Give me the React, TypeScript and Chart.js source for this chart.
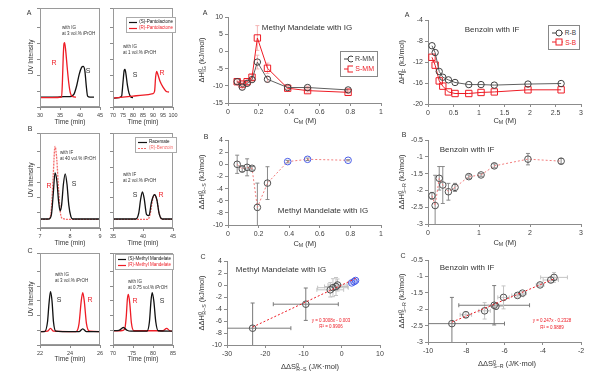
import React, { useEffect, useRef } from "react";
import { Chart, registerables } from "chart.js";

Chart.register(...registerables);

const FONT = "'Liberation Sans', Arial, sans-serif";

// ---------- Chromatograms (arbitrary UV intensity units) ----------
// Row A: pantolactone
const aLeftSTime = [30, 32, 34, 36, 37.5, 38.5, 39.2, 39.8, 40.4, 40.8, 41.2, 41.6, 41.9, 42.5, 43.5];
const aLeftSUV = [1.0, 1.0, 1.0, 1.05, 1.05, 1.3, 2.2, 3.3, 4.0, 4.1, 3.7, 2.0, 1.1, 1.0, 1.0];
const aLeftRTime = [30, 33, 35.4, 35.6, 35.8, 36.0, 36.15, 36.4, 36.8, 37.2, 37.6, 38.2, 39];
const aLeftRUV = [0.95, 0.95, 1.0, 2.5, 5.0, 6.4, 6.5, 5.8, 4.0, 2.4, 1.4, 1.05, 1.0];
const aRightSTime = [70, 73, 74.3, 75, 75.6, 76, 76.5, 77.2, 78, 79, 80];
const aRightSUV = [0.9, 0.95, 1.1, 2.5, 3.7, 3.8, 3.3, 2.2, 1.4, 1.0, 0.95];
const aRightRTime = [70, 75, 80, 85, 90, 90.8, 91.3, 91.8, 92.4, 93.5, 95, 96.5, 98];
const aRightRUV = [0.9, 1.0, 1.1, 1.2, 1.35, 1.6, 3.0, 3.6, 3.3, 2.6, 2.0, 1.6, 1.5];
// Row B: benzoin
const bLeftRacTime = [7.0, 7.3, 7.38, 7.44, 7.5, 7.56, 7.62, 7.67, 7.72, 7.78, 7.84, 7.9, 7.96, 8.03, 8.1, 9.0];
const bLeftRacUV = [0.95, 0.95, 1.4, 3.5, 5.8, 5.0, 2.8, 1.8, 2.4, 4.6, 5.7, 4.6, 2.4, 1.2, 0.95, 0.95];
const bLeftRTime = [7.0, 7.3, 7.38, 7.44, 7.5, 7.56, 7.62, 7.68, 7.75, 8.0, 9.0];
const bLeftRUV = [0.9, 0.95, 2.0, 5.5, 8.6, 7.2, 4.0, 1.6, 1.0, 0.9, 0.9];
const bRightRacTime = [35, 38.8, 39.3, 39.6, 39.9, 40.2, 40.6, 41.0, 41.4, 41.9, 42.3, 42.7, 43.2, 45];
const bRightRacUV = [0.95, 0.95, 1.6, 3.0, 3.8, 3.1, 1.4, 1.3, 2.7, 3.5, 3.0, 1.5, 0.95, 0.95];
const bRightRTime = [35, 40.8, 41.2, 41.6, 41.9, 42.3, 42.7, 43.2, 45];
const bRightRUV = [0.9, 0.9, 1.5, 3.0, 3.5, 3.0, 1.5, 0.9, 0.9];
// Row C: methyl mandelate
const cLeftSTime = [22, 22.3, 22.5, 22.6, 22.7, 22.8, 22.9, 23.05, 23.5, 24.6, 24.85, 25.1, 26];
const cLeftSUV = [1.45, 1.45, 2.5, 4.5, 5.8, 4.8, 2.5, 1.5, 1.45, 1.45, 1.75, 1.45, 1.45];
const cLeftRTime = [22, 22.5, 22.7, 22.9, 24.4, 24.6, 24.75, 24.85, 24.95, 25.1, 25.3, 26];
const cLeftRUV = [1.45, 1.5, 1.8, 1.5, 1.45, 2.3, 4.8, 5.7, 4.8, 2.3, 1.5, 1.45];
const cRightSTime = [70, 71.5, 72.6, 73.5, 74.5, 78.5, 79.1, 79.5, 79.8, 80.2, 80.7, 81.3, 85];
const cRightSUV = [1.55, 1.6, 1.9, 1.6, 1.5, 1.5, 2.5, 4.8, 5.7, 4.8, 2.5, 1.55, 1.5];
const cRightRTime = [70, 72, 72.9, 73.3, 73.6, 73.85, 74.2, 74.6, 75.2, 82.5, 83.4, 84.2, 85];
const cRightRUV = [1.55, 1.55, 1.7, 3.0, 5.0, 5.5, 4.5, 2.4, 1.55, 1.55, 1.8, 1.55, 1.5];

// ---------- Methyl mandelate with IG ----------
const mmConc = [0.06, 0.093, 0.125, 0.157, 0.192, 0.258, 0.39, 0.52, 0.785];
const rmmH = [-8.8, -10.4, -9.3, -8.2, -3.1, -8.1, -10.5, -10.5, -11.2];
const rmmErr = [0.6, 0.6, 0.6, 0.6, 2.0, 0.8, 0.4, 0.4, 0.4];
const smmH = [-8.8, -9.5, -8.8, -7.5, 3.9, -4.9, -10.7, -11.4, -11.9];
const smmErr = [0.6, 0.6, 0.8, 0.8, 3.6, 1.5, 0.4, 0.4, 0.4];
const mmDDH = [0.0, -0.77, -0.5, -0.66, -7.1, -3.1, 0.44, 0.82, 0.66];
const mmDDHErr = [1.5, 0.5, 1.4, 0.3, 4.0, 2.7, 0.2, 0.2, 0.1];
const mmDDS = [-23.3, -9.4, -3.0, -2.3, -1.5, -1.1];
const mmDDHc = [-7.2, -3.2, -0.8, -0.45, -0.25, 0.0];
const mmDDSErr = [10, 8.5, 3.5, 4, 3, 2.5];
const mmDDHcErr = [4.2, 2.7, 1.2, 1.5, 1.5, 1.0];
const mmDDSBlue = [2.6, 3.2, 3.6];
const mmDDHBlue = [0.35, 0.55, 0.75];
const mmFitX = [-23.3, 3.8];
const mmFitY = [-7.01, 1.14];

// ---------- Benzoin with IF ----------
const bzConc = [0.078, 0.14, 0.22, 0.29, 0.4, 0.53, 0.8, 1.04, 1.3, 1.96, 2.61];
const rbH = [-8.9, -10.2, -13.8, -14.9, -15.4, -15.9, -16.3, -16.3, -16.4, -16.2, -16.1];
const sbH = [-11.1, -12.6, -15.6, -16.6, -17.7, -18.0, -18.0, -17.8, -17.7, -17.3, -17.3];
const bzDDH = [-2.16, -2.45, -1.64, -1.84, -2.04, -1.91, -1.59, -1.54, -1.27, -1.07, -1.13];
const bzDDHErr = [0.1, 0.9, 0.35, 0.55, 0.25, 0.12, 0.05, 0.04, 0.06, 0.17, 0.08];
const bzDDS = [-8.75, -8.02, -7.04, -6.54, -6.45, -6.05, -5.32, -5.06, -4.14, -3.58, -3.41];
const bzDDHc = [-2.44, -2.17, -2.05, -1.88, -1.91, -1.64, -1.58, -1.51, -1.26, -1.11, -1.03];
const bzDDSErr = [2.75, 0.3, 0.3, 1.85, 0.4, 0.3, 0.3, 0.2, 0.2, 0.4, 0.7];
const bzDDHcErr = [0.8, 0.1, 0.25, 0.6, 0.1, 0.35, 0.05, 0.05, 0.05, 0.08, 0.15];
const bzFitX = [-8.75, -3.35];
const bzFitY = [-2.394, -1.06];

// ---------- plugins ----------
const framePlugin = {
  id: "frame",
  afterDraw(chart: any, _a: any, opts: any) {
    if (!opts || !opts.color) return;
    const { left, top, right, bottom } = chart.chartArea;
    const ctx = chart.ctx;
    ctx.save();
    ctx.strokeStyle = opts.color;
    ctx.lineWidth = 1;
    ctx.strokeRect(Math.round(left) + 0.5, Math.round(top) + 0.5, Math.round(right - left) - 1, Math.round(bottom - top) - 1);
    ctx.restore();
  },
};

const errPlugin = {
  id: "errbars",
  beforeDatasetsDraw(chart: any) {
    const ctx = chart.ctx;
    const { left, top, right, bottom } = chart.chartArea;
    const xs = chart.scales.x;
    const ys = chart.scales.y;
    ctx.save();
    ctx.beginPath();
    ctx.rect(left, top, right - left, bottom - top);
    ctx.clip();
    ctx.lineWidth = 1;
    chart.data.datasets.forEach((ds: any) => {
      if (!ds.errY && !ds.errX) return;
      ds.data.forEach((p: any, i: number) => {
        const col = Array.isArray(ds.errColor) ? ds.errColor[i] : ds.errColor || "#888";
        ctx.strokeStyle = col;
        const px = xs.getPixelForValue(p.x);
        const py = ys.getPixelForValue(p.y);
        const cap = 2;
        if (ds.errY) {
          const e = ds.errY[i];
          const y1 = ys.getPixelForValue(p.y + e);
          const y2 = ys.getPixelForValue(p.y - e);
          ctx.beginPath();
          ctx.moveTo(px, y1); ctx.lineTo(px, y2);
          ctx.moveTo(px - cap, y1); ctx.lineTo(px + cap, y1);
          ctx.moveTo(px - cap, y2); ctx.lineTo(px + cap, y2);
          ctx.stroke();
        }
        if (ds.errX) {
          const e = ds.errX[i];
          const x1 = xs.getPixelForValue(p.x - e);
          const x2 = xs.getPixelForValue(p.x + e);
          ctx.beginPath();
          ctx.moveTo(x1, py); ctx.lineTo(x2, py);
          ctx.moveTo(x1, py - cap); ctx.lineTo(x1, py + cap);
          ctx.moveTo(x2, py - cap); ctx.lineTo(x2, py + cap);
          ctx.stroke();
        }
      });
    });
    ctx.restore();
  },
};

Chart.register(framePlugin as any, errPlugin as any);

const PL = 28, PR = 10, PT = 8, PB = 18;

type Box = { l: number; t: number; w: number; h: number };

const pts = (xs: number[], ys: number[]) => xs.map((x, i) => ({ x, y: ys[i] }));

const fmt = (v: any) => String(Math.round(Number(v) * 100) / 100);

function axis(min: number, max: number, step: number, labels = true, size = 7) {
  return {
    type: "linear",
    min,
    max,
    ticks: {
      stepSize: step,
      display: labels,
      font: { size, family: FONT },
      color: "#404040",
      padding: 2,
      autoSkip: false,
      maxRotation: 0,
      callback: fmt,
    },
    grid: { drawOnChartArea: false, drawTicks: true, tickLength: 3, color: "#8c8c8c" },
    border: { display: true, color: "#8c8c8c", width: 1 },
  };
}

function options(x: any, y: any, frame?: string) {
  return {
    responsive: false,
    animation: false,
    devicePixelRatio: 1,
    events: [],
    layout: { padding: { top: PT, right: PR, left: 0, bottom: 0 } },
    plugins: {
      legend: { display: false },
      tooltip: { enabled: false },
      frame: { color: frame },
    },
    scales: {
      x: { ...x, afterFit: (s: any) => { s.height = PB; } },
      y: { ...y, afterFit: (s: any) => { s.width = PL; } },
    },
  };
}

function Panel({ box, make }: { box: Box; make: () => any }) {
  const ref = useRef<HTMLCanvasElement>(null);
  useEffect(() => {
    const chart = new Chart(ref.current as HTMLCanvasElement, make());
    return () => chart.destroy();
  }, []);
  const w = box.w + PL + PR;
  const h = box.h + PT + PB;
  return (
    <canvas
      ref={ref}
      width={w}
      height={h}
      style={{ position: "absolute", left: box.l - PL, top: box.t - PT, width: w, height: h }}
    />
  );
}

const RED = "#ee1c25";
const PINK = "#f27d7d";

function chrom(series: { x: number[]; y: number[]; color: string; dash?: number[] }[], xmin: number, xmax: number, xstep: number) {
  return () => ({
    type: "line",
    data: {
      datasets: series.map((s) => ({
        data: pts(s.x, s.y),
        borderColor: s.color,
        borderWidth: 1.3,
        borderDash: s.dash || [],
        pointRadius: 0,
        cubicInterpolationMode: "monotone",
        fill: false,
      })),
    },
    options: options(axis(xmin, xmax, xstep, true, 5.5), axis(0, 10, 1.6, false), "#9a9a9a"),
  });
}

function markerDs(xs: number[], ys: number[], color: string, style: string, radius: number, extra: any = {}) {
  return {
    data: pts(xs, ys),
    borderColor: color,
    borderWidth: 1,
    pointStyle: style,
    pointRadius: radius,
    pointBorderColor: color,
    pointBackgroundColor: "rgba(255,255,255,0)",
    pointBorderWidth: 1,
    fill: false,
    ...extra,
  };
}

const T = ({ x, y, children, color = "#333", size = 7, align = "center" }: any) => (
  <div
    style={{
      position: "absolute",
      left: x,
      top: y,
      transform: align === "center" ? "translate(-50%,-50%)" : "translate(0,-50%)",
      whiteSpace: "nowrap",
      fontSize: size,
      lineHeight: 1,
      color,
      fontFamily: FONT,
    }}
  >
    {children}
  </div>
);

const V = ({ x, y, children, size = 7.5 }: any) => (
  <div
    style={{
      position: "absolute",
      left: x,
      top: y,
      transform: "translate(-50%,-50%) rotate(-90deg)",
      whiteSpace: "nowrap",
      fontSize: size,
      lineHeight: 1,
      color: "#333",
      fontFamily: FONT,
    }}
  >
    {children}
  </div>
);

const sub = (s: string) => <sub style={{ fontSize: "0.7em", verticalAlign: "-0.25em" }}>{s}</sub>;
const HS = (s: string) => (
  <span style={{ position: "relative", display: "inline-block" }}>
    <span style={{ fontSize: "0.7em", position: "relative", top: "-0.45em" }}>0</span>
    <span style={{ fontSize: "0.7em", marginLeft: "-0.5em", position: "relative", top: "0.3em" }}>{s}</span>
  </span>
);

function ChromLegend({ x, y, w, items }: any) {
  return (
    <div
      style={{
        position: "absolute",
        left: x,
        top: y,
        width: w,
        border: "1px solid #aaa",
        background: "#fff",
        padding: "1px 2px",
        fontFamily: FONT,
        fontSize: 4.5,
        lineHeight: "6px",
      }}
    >
      {items.map((it: any, i: number) => (
        <div key={i} style={{ display: "flex", alignItems: "center", whiteSpace: "nowrap", color: it.color }}>
          <svg width={9} height={5} style={{ marginRight: 2 }}>
            <line x1={0} y1={2.5} x2={9} y2={2.5} stroke={it.color} strokeWidth={1.2} strokeDasharray={it.dash ? "2,1" : undefined} />
          </svg>
          {it.label}
        </div>
      ))}
    </div>
  );
}

function SeriesLegend({ x, y, w, items, size = 8 }: any) {
  return (
    <div
      style={{
        position: "absolute",
        left: x,
        top: y,
        width: w,
        border: "1px solid #888",
        background: "#fff",
        padding: "2px 3px",
        fontFamily: FONT,
        fontSize: size,
        lineHeight: `${size + 3}px`,
      }}
    >
      {items.map((it: any, i: number) => (
        <div key={i} style={{ display: "flex", alignItems: "center", whiteSpace: "nowrap", color: it.color }}>
          <svg width={14} height={8} style={{ marginRight: 2 }}>
            <line x1={0} y1={4} x2={14} y2={4} stroke={it.color} strokeWidth={1} />
            {it.square ? (
              <rect x={4} y={1} width={6} height={6} fill="#fff" stroke={it.color} strokeWidth={1} />
            ) : (
              <circle cx={7} cy={4} r={3} fill="#fff" stroke={it.color} strokeWidth={1} />
            )}
          </svg>
          {it.label}
        </div>
      ))}
    </div>
  );
}

// plot boxes
const boxAL: Box = { l: 40, t: 8, w: 60, h: 99 };
const boxAR: Box = { l: 113, t: 8, w: 60, h: 99 };
const boxBL: Box = { l: 40, t: 133, w: 60, h: 95 };
const boxBR: Box = { l: 113, t: 133, w: 60, h: 95 };
const boxCL: Box = { l: 40, t: 253, w: 60, h: 92 };
const boxCR: Box = { l: 113, t: 253, w: 60, h: 92 };
const boxMA: Box = { l: 228, t: 17, w: 153, h: 86 };
const boxMB: Box = { l: 228, t: 140, w: 153, h: 85 };
const boxMC: Box = { l: 227, t: 261, w: 153, h: 84 };
const boxRA: Box = { l: 428, t: 20, w: 153, h: 84 };
const boxRB: Box = { l: 428, t: 140, w: 153, h: 84 };
const boxRC: Box = { l: 428, t: 260, w: 153, h: 82 };

const makeMA = () => ({
  type: "line",
  data: {
    datasets: [
      markerDs(mmConc, rmmH, "#404040", "circle", 3.2, { borderColor: "#606060", errY: rmmErr, errColor: "#f5b5b5" }),
      markerDs(mmConc, smmH, RED, "rect", 4.5, { errY: smmErr, errColor: "#f5b5b5" }),
    ],
  },
  options: options(axis(0, 1, 0.2), axis(-15, 10, 5)),
});

const makeMB = () => ({
  type: "line",
  data: {
    datasets: [
      markerDs(mmConc, mmDDH, PINK, "circle", 3.3, {
        borderDash: [2, 2],
        pointBorderColor: mmConc.map((_, i) => (i < 6 ? "#505050" : "#4a5ee8")),
        errY: mmDDHErr,
        errColor: "#8a8a8a",
      }),
    ],
  },
  options: options(axis(0, 1, 0.2), axis(-10, 4, 2)),
});

const makeMC = () => ({
  type: "line",
  data: {
    datasets: [
      { data: pts(mmFitX, mmFitY), borderColor: RED, borderWidth: 1, borderDash: [2, 2], pointRadius: 0 },
      markerDs(mmDDS, mmDDHc, "#505050", "circle", 3.3, {
        showLine: false,
        errX: mmDDSErr,
        errY: mmDDHcErr,
        errColor: mmDDS.map((_, i) => (i < 2 ? "#7a7a7a" : "#c4c4c4")),
      }),
      markerDs(mmDDSBlue, mmDDHBlue, "#4a5ee8", "circle", 3.3, {
        showLine: false,
        errX: mmDDSBlue.map(() => 0.6),
        errY: mmDDSBlue.map(() => 0.2),
        errColor: "#b8c2f5",
      }),
    ],
  },
  options: options(axis(-30, 10, 10), axis(-10, 4, 2)),
});

const makeRA = () => ({
  type: "line",
  data: {
    datasets: [
      markerDs(bzConc, rbH, "#404040", "circle", 3.2, { borderColor: "#606060" }),
      markerDs(bzConc, sbH, RED, "rect", 4.5),
    ],
  },
  options: options(axis(0, 3, 0.5), axis(-20, -4, 4)),
});

const makeRB = () => ({
  type: "line",
  data: {
    datasets: [
      markerDs(bzConc, bzDDH, PINK, "circle", 3.3, {
        borderDash: [2, 2],
        pointBorderColor: "#505050",
        errY: bzDDHErr,
        errColor: "#8a8a8a",
      }),
    ],
  },
  options: options(axis(0, 3, 1), axis(-3, -0.5, 0.5)),
});

const makeRC = () => ({
  type: "line",
  data: {
    datasets: [
      { data: pts(bzFitX, bzFitY), borderColor: RED, borderWidth: 1, borderDash: [2, 2], pointRadius: 0 },
      markerDs(bzDDS, bzDDHc, "#505050", "circle", 3.3, {
        showLine: false,
        errX: bzDDSErr,
        errY: bzDDHcErr,
        errColor: bzDDS.map((_, i) => (i === 0 || i === 3 ? "#7a7a7a" : "#c4c4c4")),
      }),
    ],
  },
  options: options(axis(-10, -2, 2), axis(-3, -0.5, 0.5)),
});

export default function App() {
  const ddH = (s: string) => (
    <span>
      ΔΔH{HS(s)} (kJ/mol)
    </span>
  );
  return (
    <div
      style={{
        position: "absolute",
        left: 0,
        top: 0,
        width: 599,
        height: 377,
        background: "#fff",
        overflow: "hidden",
        fontFamily: FONT,
      }}
    >
      {/* chromatograms */}
      <Panel box={boxAL} make={chrom([{ x: aLeftRTime, y: aLeftRUV, color: RED }, { x: aLeftSTime, y: aLeftSUV, color: "#111" }], 30, 45, 5)} />
      <Panel box={boxAR} make={chrom([{ x: aRightRTime, y: aRightRUV, color: RED }, { x: aRightSTime, y: aRightSUV, color: "#111" }], 70, 100, 5)} />
      <Panel box={boxBL} make={chrom([{ x: bLeftRacTime, y: bLeftRacUV, color: "#111" }, { x: bLeftRTime, y: bLeftRUV, color: "#f46a6a", dash: [2, 1] }], 7, 9, 1)} />
      <Panel box={boxBR} make={chrom([{ x: bRightRacTime, y: bRightRacUV, color: "#111" }, { x: bRightRTime, y: bRightRUV, color: "#f46a6a", dash: [2, 1] }], 35, 45, 5)} />
      <Panel box={boxCL} make={chrom([{ x: cLeftSTime, y: cLeftSUV, color: "#111" }, { x: cLeftRTime, y: cLeftRUV, color: RED }], 22, 26, 2)} />
      <Panel box={boxCR} make={chrom([{ x: cRightSTime, y: cRightSUV, color: "#111" }, { x: cRightRTime, y: cRightRUV, color: RED }], 70, 85, 5)} />

      <Panel box={boxMA} make={makeMA} />
      <Panel box={boxMB} make={makeMB} />
      <Panel box={boxMC} make={makeMC} />
      <Panel box={boxRA} make={makeRA} />
      <Panel box={boxRB} make={makeRB} />
      <Panel box={boxRC} make={makeRC} />

      {/* chromatogram texts */}
      <T x={29} y={12} size={7}>A</T>
      <T x={30} y={128} size={7}>B</T>
      <T x={30} y={250} size={7}>C</T>
      <V x={31} y={57} size={6.5}>UV Intensity</V>
      <V x={31} y={180} size={6.5}>UV Intensity</V>
      <V x={31} y={299} size={6.5}>UV Intensity</V>
      <T x={70} y={122} size={6.5}>Time (min)</T>
      <T x={143} y={122} size={6.5}>Time (min)</T>
      <T x={70} y={243} size={6.5}>Time (min)</T>
      <T x={143} y={243} size={6.5}>Time (min)</T>
      <T x={70} y={359} size={6.5}>Time (min)</T>
      <T x={143} y={359} size={6.5}>Time (min)</T>

      <T x={62} y={28} size={4.5} align="left">with IG</T>
      <T x={62} y={34} size={4.5} align="left">at 3 vol.% iPrOH</T>
      <T x={54} y={62} size={7} color={RED}>R</T>
      <T x={88} y={70} size={7}>S</T>
      <ChromLegend x={126} y={17} w={44} items={[{ label: "(S)-Pantolactone", color: "#111" }, { label: "(R)-Pantolactone", color: RED }]} />
      <T x={123} y={47} size={4.5} align="left">with IG</T>
      <T x={123} y={53} size={4.5} align="left">at 1 vol.% iPrOH</T>
      <T x={135} y={74} size={7}>S</T>
      <T x={162} y={72} size={7} color={RED}>R</T>

      <T x={60} y={153} size={4.5} align="left">with IF</T>
      <T x={60} y={159} size={4.5} align="left">at 40 vol.% iPrOH</T>
      <T x={49} y={185} size={7} color={RED}>R</T>
      <T x={74} y={183} size={7}>S</T>
      <ChromLegend x={135} y={137} w={36} items={[{ label: "Racemate", color: "#111" }, { label: "(R)-Benzoin", color: "#f46a6a", dash: true }]} />
      <T x={123} y={175} size={4.5} align="left">with IF</T>
      <T x={123} y={181} size={4.5} align="left">at 2 vol.% iPrOH</T>
      <T x={135} y={194} size={7}>S</T>
      <T x={161} y={194} size={7} color={RED}>R</T>

      <T x={55} y={275} size={4.5} align="left">with IG</T>
      <T x={55} y={281} size={4.5} align="left">at 3 vol.% iPrOH</T>
      <T x={59} y={299} size={7}>S</T>
      <T x={90} y={299} size={7} color={RED}>R</T>
      <ChromLegend x={115} y={254} w={53} items={[{ label: "(S)-Methyl Mandelate", color: "#111" }, { label: "(R)-Methyl Mandelate", color: RED }]} />
      <T x={128} y={282} size={4.5} align="left">with IG</T>
      <T x={128} y={288} size={4.5} align="left">at 0.75 vol.% iPrOH</T>
      <T x={135} y={300} size={7} color={RED}>R</T>
      <T x={162} y={300} size={7}>S</T>

      {/* middle column */}
      <T x={205} y={12} size={7}>A</T>
      <T x={206} y={136} size={7}>B</T>
      <T x={203} y={256} size={7}>C</T>
      <V x={202} y={60}>
        <span>ΔH{HS("IG")} (kJ/mol)</span>
      </V>
      <V x={202} y={182}>{ddH("R−S")}</V>
      <V x={202} y={303}>{ddH("R−S")}</V>
      <T x={305} y={121} size={7.5}>C{sub("M")} (M)</T>
      <T x={305} y={244} size={7.5}>C{sub("M")} (M)</T>
      <T x={310} y={367} size={7.5}>
        ΔΔS{HS("R−S")} (J/K·mol)
      </T>
      <T x={307} y={28} size={8}>Methyl Mandelate with IG</T>
      <T x={323} y={211} size={8}>Methyl Mandelate with IG</T>
      <T x={281} y={270} size={8}>Methyl Mandelate with IG</T>
      <T x={331} y={321} size={4.5} color={RED}>y = 0.3008x - 0.003</T>
      <T x={331} y={327} size={4.5} color={RED}>R² = 0.9906</T>
      <SeriesLegend x={340} y={51} w={30} size={7} items={[{ label: "R-MM", color: "#404040" }, { label: "S-MM", color: RED, square: true }]} />

      {/* right column */}
      <T x={407} y={14} size={7}>A</T>
      <T x={404} y={134} size={7}>B</T>
      <T x={403} y={255} size={7}>C</T>
      <V x={402} y={62}>
        <span>ΔH{HS("IF")} (kJ/mol)</span>
      </V>
      <V x={402} y={182}>{ddH("S−R")}</V>
      <V x={402} y={301}>{ddH("S−R")}</V>
      <T x={505} y={121} size={7.5}>C{sub("M")} (M)</T>
      <T x={505} y={243} size={7.5}>C{sub("M")} (M)</T>
      <T x={507} y={364} size={7.5}>
        ΔΔS{HS("S−R")} (J/K·mol)
      </T>
      <T x={492} y={30} size={8}>Benzoin with IF</T>
      <T x={467} y={150} size={8}>Benzoin with IF</T>
      <T x={467} y={268} size={8}>Benzoin with IF</T>
      <T x={552} y={321} size={4.5} color={RED}>y = 0.247x - 0.2328</T>
      <T x={552} y={328} size={4.5} color={RED}>R² = 0.9889</T>
      <SeriesLegend x={548} y={25} w={24} size={6.5} items={[{ label: "R-B", color: "#404040" }, { label: "S-B", color: RED, square: true }]} />
    </div>
  );
}
